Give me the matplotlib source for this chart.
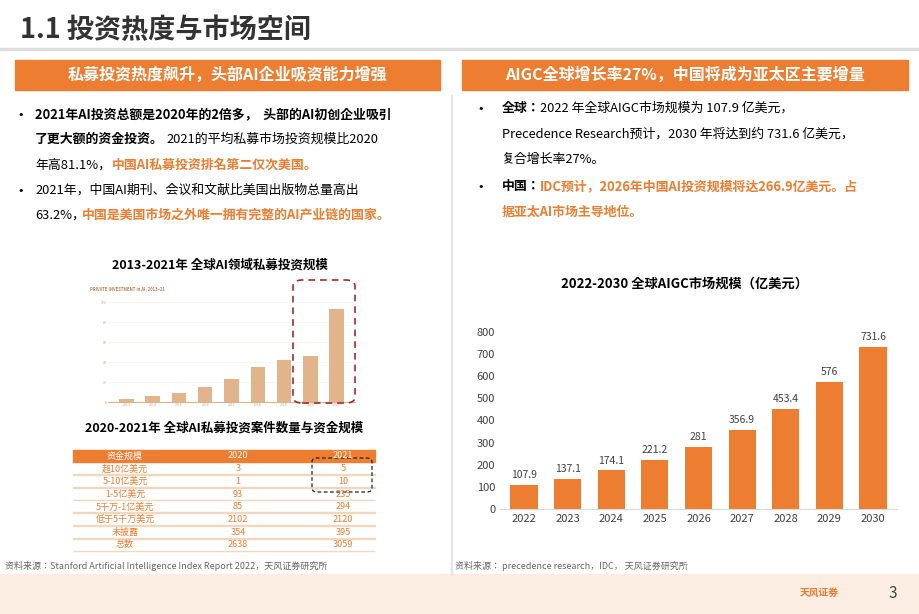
import matplotlib
matplotlib.use("Agg")
import matplotlib.pyplot as plt
from matplotlib import font_manager as fm
from matplotlib.patches import Rectangle, FancyBboxPatch

cjk_names = []
for f in fm.findSystemFonts():
    if "CJK" in f or "cjk" in f.lower():
        try:
            fm.fontManager.addfont(f)
            n = fm.FontProperties(fname=f).get_name()
            if n not in cjk_names:
                cjk_names.append(n)
        except Exception:
            pass
pref = [n for n in cjk_names if "SC" in n] + cjk_names
plt.rcParams["font.family"] = pref + ["Noto Sans CJK SC", "Noto Sans CJK JP", "DejaVu Sans"]

years = ["2022", "2023", "2024", "2025", "2026", "2027", "2028", "2029", "2030"]
aigc = [107.9, 137.1, 174.1, 221.2, 281, 356.9, 453.4, 576, 731.6]
aigc_labels = ["107.9", "137.1", "174.1", "221.2", "281", "356.9", "453.4", "576", "731.6"]
yticks = [0, 100, 200, 300, 400, 500, 600, 700, 800]

pi_years = ["2013", "2014", "2015", "2016", "2017", "2018", "2019", "2020", "2021"]
pi_vals = [3, 6, 9, 15, 23, 35, 42, 46, 93.5]

tbl_header = ["资金规模", "2020", "2021"]
tbl_rows = [["超10亿美元", "3", "5"], ["5-10亿美元", "1", "10"], ["1-5亿美元", "93", "235"],
            ["5千万-1亿美元", "85", "294"], ["低于5千万美元", "2102", "2120"],
            ["未披露", "354", "395"], ["总数", "2638", "3059"]]

ORANGE = "#ED7D31"
W, H = 920, 614
fig = plt.figure(figsize=(9.2, 6.14), dpi=100)

def fx(x): return x / W
def fy(y): return 1 - y / H

def txt(x, y, s, **kw):
    fig.text(fx(x), fy(y), s, **kw)

# title
txt(20, 30, "1.1 投资热度与市场空间", fontsize=19.5, fontweight="bold", color="#333333", va="center")
fig.add_artist(Rectangle((0, fy(50)), 1, 0.003, transform=fig.transFigure, color="#DDDDDD"))
# header bars
fig.add_artist(Rectangle((fx(15), fy(90)), fx(440 - 15), 30 / H, transform=fig.transFigure, color=ORANGE))
fig.add_artist(Rectangle((fx(462), fy(90)), fx(908 - 462), 30 / H, transform=fig.transFigure, color=ORANGE))
txt(228, 75, "私募投资热度飙升，头部AI企业吸资能力增强", fontsize=11.5, fontweight="bold", color="white", ha="center", va="center")
txt(685, 75, "AIGC全球增长率27%，中国将成为亚太区主要增量", fontsize=11.5, fontweight="bold", color="white", ha="center", va="center")
fig.add_artist(Rectangle((fx(451), fy(575)), 0.0015, (575 - 95) / H, transform=fig.transFigure, color="#E5E5E5"))

# left bullets
fs = 9.3
txt(18, 114, "•", fontsize=fs, va="center")
txt(35, 114, "2021年AI投资总额是2020年的2倍多，  头部的AI初创企业吸引", fontsize=fs, fontweight="bold", va="center")
txt(35, 139, "了更大额的资金投资。", fontsize=fs, fontweight="bold", va="center")
txt(166, 139, "2021的平均私募市场投资规模比2020", fontsize=fs, va="center")
txt(35, 165, "年高81.1%，", fontsize=fs, va="center")
txt(112, 165, "中国AI私募投资排名第二仅次美国。", fontsize=fs, fontweight="bold", color=ORANGE, va="center")
txt(18, 190, "•", fontsize=fs, va="center")
txt(35, 190, "2021年，中国AI期刊、会议和文献比美国出版物总量高出", fontsize=fs, va="center")
txt(35, 215, "63.2%，", fontsize=fs, va="center")
txt(82, 215, "中国是美国市场之外唯一拥有完整的AI产业链的国家。", fontsize=fs, fontweight="bold", color=ORANGE, va="center")

# right bullets
txt(478, 108, "•", fontsize=fs, va="center")
txt(502, 108, "全球：", fontsize=fs, fontweight="bold", va="center")
txt(540, 108, "2022 年全球AIGC市场规模为 107.9 亿美元，", fontsize=fs, va="center")
txt(502, 134, "Precedence Research预计，2030 年将达到约 731.6 亿美元，", fontsize=fs, va="center")
txt(502, 160, "复合增长率27%。", fontsize=fs, va="center")
txt(478, 186, "•", fontsize=fs, va="center")
txt(502, 186, "中国：", fontsize=fs, fontweight="bold", va="center")
txt(540, 186, "IDC预计，2026年中国AI投资规模将达266.9亿美元。占", fontsize=fs, fontweight="bold", color=ORANGE, va="center")
txt(502, 212, "据亚太AI市场主导地位。", fontsize=fs, fontweight="bold", color=ORANGE, va="center")

# small chart titles
txt(220, 265, "2013-2021年 全球AI领域私募投资规模", fontsize=9, fontweight="bold", ha="center", va="center")
txt(224, 428, "2020-2021年 全球AI私募投资案件数量与资金规模", fontsize=9, fontweight="bold", ha="center", va="center")
txt(685, 284, "2022-2030 全球AIGC市场规模（亿美元）", fontsize=9.5, fontweight="bold", ha="center", va="center")

# left small chart
ax2 = fig.add_axes([fx(108), fy(402), fx(355 - 108), (402 - 302) / H])
ax2.bar(range(len(pi_vals)), pi_vals, width=0.55, color="#E2B48B")
ax2.set_ylim(0, 100)
ax2.set_xticks(range(len(pi_years)), pi_years, fontsize=2.5, color="#C9A27E")
ax2.set_yticks([0, 20, 40, 60, 80, 100], ["0", "20", "40", "60", "80", "100"], fontsize=2.5, color="#C9A27E")
ax2.tick_params(length=0, pad=1)
for s in ax2.spines.values():
    s.set_visible(False)
ax2.spines["bottom"].set_visible(True)
ax2.spines["bottom"].set_color("#D8B48E")
ax2.grid(axis="y", color="#F3ECE4", lw=0.4)
ax2.set_axisbelow(True)
txt(90, 291, "PRIVATE INVESTMENT in AI, 2013–21", fontsize=3, fontweight="bold", color="#B5865A")
fig.add_artist(FancyBboxPatch((fx(293), fy(403)), fx(355 - 293), (403 - 280) / H, boxstyle="round,pad=0,rounding_size=0.01",
                              transform=fig.transFigure, fill=False, ec="#A52A2A", ls=(0, (4, 3)), lw=1.2))

# table
row_y0 = 456
dy = 12.7
fig.add_artist(Rectangle((fx(73), fy(row_y0 + dy / 2)), fx(375 - 73), dy / H, transform=fig.transFigure, color=ORANGE))
cols = [125, 238, 343]
for c, h in zip(cols, tbl_header):
    txt(c, row_y0, h, fontsize=6.5, color="white", ha="center", va="center")
for i, r in enumerate(tbl_rows):
    y = row_y0 + (i + 1) * dy
    for c, v in zip(cols, r):
        txt(c, y, v, fontsize=6.5, color=ORANGE, ha="center", va="center")
    fig.add_artist(Rectangle((fx(73), fy(y + dy / 2)), fx(375 - 73), 0.0012, transform=fig.transFigure, color="#F2D7BF"))
fig.add_artist(FancyBboxPatch((fx(312), fy(492)), fx(372 - 312), (492 - 458) / H, boxstyle="round,pad=0,rounding_size=0.006",
                              transform=fig.transFigure, fill=False, ec="#222222", ls=(0, (3, 2)), lw=0.9))

# main chart
ax = fig.add_axes([fx(500), fy(509), fx(897 - 500), (509 - 332) / H])
x = range(len(years))
ax.bar(x, aigc, width=0.62, color=ORANGE)
for xi, v, l in zip(x, aigc, aigc_labels):
    ax.text(xi, v + 22, l, ha="center", va="bottom", fontsize=7.5, color="#404040")
ax.set_ylim(0, 800)
ax.set_xlim(-0.55, len(years) - 0.45)
ax.set_yticks(yticks, [str(t) for t in yticks], fontsize=8, color="#404040")
ax.set_xticks(list(x), years, fontsize=8, color="#404040")
ax.tick_params(length=0)
for s in ax.spines.values():
    s.set_visible(False)
ax.spines["bottom"].set_visible(True)
ax.spines["bottom"].set_color("#D9D9D9")

# sources
txt(5, 566, "资料来源：Stanford Artificial Intelligence Index Report 2022，天风证券研究所", fontsize=6.5, color="#666666", va="center")
txt(455, 566, "资料来源： precedence research，IDC， 天风证券研究所", fontsize=6.5, color="#666666", va="center")
fig.add_artist(Rectangle((0, 0), 1, 40 / H, transform=fig.transFigure, color="#FBEDE2", zorder=-1))
txt(800, 593, "天风证券", fontsize=7, fontweight="bold", color=ORANGE, va="center")
txt(893, 593, "3", fontsize=11, color="#444444", ha="center", va="center")

fig.savefig("out.png", dpi=100)
